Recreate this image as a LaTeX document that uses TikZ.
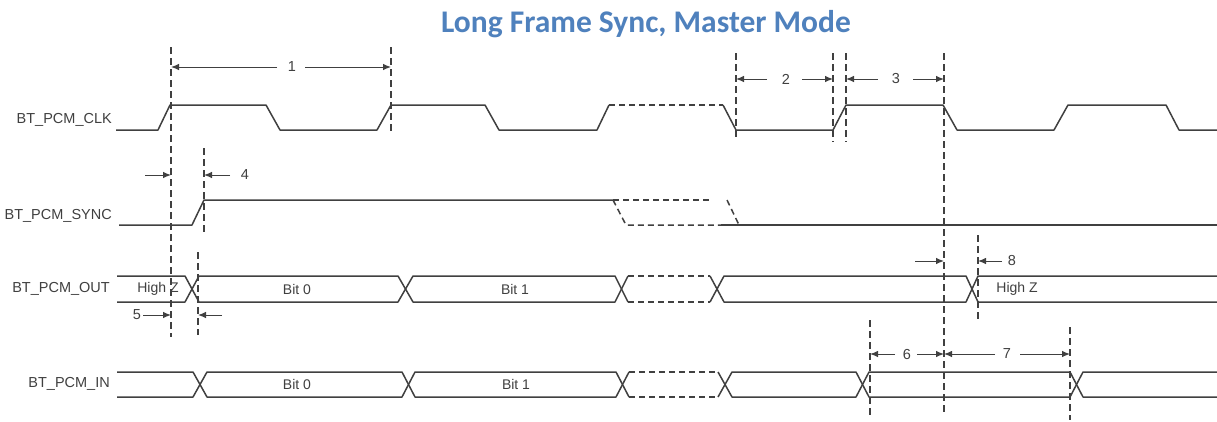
\documentclass[tikz,border=0pt]{standalone}
\usepackage{fontspec}
\setmainfont{Liberation Sans}
\newfontfamily\titlefont{Carlito}
\usetikzlibrary{arrows.meta}
\definecolor{sigc}{RGB}{64,64,64}
\definecolor{titc}{RGB}{79,129,189}
\tikzset{
  sig/.style={draw=sigc, line width=1.5pt, line join=round},
  dsig/.style={sig, dash pattern=on 6pt off 4pt},
  guide/.style={draw=sigc, line width=1.3pt, dash pattern=on 7pt off 4pt},
  dim/.style={draw=sigc, line width=1pt, -{Latex[length=8pt,width=6.5pt]}},
  lbl/.style={anchor=east, text=sigc, font=\fontsize{14.5}{16}\selectfont, inner sep=0pt},
  btxt/.style={text=sigc, font=\fontsize{14}{16}\selectfont, inner sep=0pt},
  num/.style={text=sigc, font=\fontsize{14.5}{16}\selectfont, inner sep=0pt}
}
\begin{document}
\begin{tikzpicture}[x=1pt,y=-1pt]
\useasboundingbox[fill=white] (0,0) rectangle (1217,421);
% title
\node[text=titc, font=\titlefont\bfseries\fontsize{31.5}{34}\selectfont, anchor=base] (title) at (646,32) {Long Frame Sync, Master Mode};
% signal names
\node[lbl] (lclk) at (112,120) {BT\_PCM\_CLK};
\node[lbl] (lsync) at (112,216) {BT\_PCM\_SYNC};
\node[lbl] (lout) at (110,289) {BT\_PCM\_OUT};
\node[lbl] (lin) at (110,384) {BT\_PCM\_IN};
% CLK
\draw[sig] (116,130)--(158,130)--(170,105)--(266,105)--(280,130)--(377,130)--(391,105)--(485,105)--(499,130)--(597,130)--(609,105);
\draw[dsig] (609,105)--(723,105);
\draw[sig] (723,105)--(736,130)--(833,130)--(846,105)--(943,105)--(957,130)--(1054,130)--(1068,105)--(1166,105)--(1179,130)--(1217,130);
% SYNC
\draw[sig] (119,225)--(192,225)--(204,200)--(613,200);
\draw[dsig] (613,200)--(712,200);
\draw[dsig] (613,200)--(626,225)--(721,225);
\draw[dsig] (727,200)--(739,225);
\draw[sig] (721,225)--(1217,225);
% OUT bus (top 276, bottom 302)
\draw[sig] (117,276)--(185,276)--(199,302)--(398,302)--(413,276)--(615,276)--(628,302);
\draw[sig] (117,302)--(185,302)--(199,276)--(398,276)--(413,302)--(615,302)--(628,276);
\draw[dsig] (628,276)--(710,276);
\draw[dsig] (628,302)--(710,302);
\draw[sig] (710,276)--(724,302)--(966,302)--(978,276)--(1217,276);
\draw[sig] (710,302)--(724,276)--(966,276)--(978,302)--(1217,302);
\node[btxt] (oz1) at (158,289) {High Z};
\node[btxt] (ob0) at (297,289) {Bit 0};
\node[btxt] (ob1) at (515,289) {Bit 1};
\node[btxt] (oz2) at (1017,289) {High Z};
% IN bus (top 372, bottom 397)
\draw[sig] (117,372)--(193,372)--(207,397)--(402,397)--(415,372)--(616,372)--(629,397);
\draw[sig] (117,397)--(193,397)--(207,372)--(402,372)--(415,397)--(616,397)--(629,372);
\draw[dsig] (629,372)--(718,372);
\draw[dsig] (629,397)--(718,397);
\draw[sig] (718,372)--(732,397)--(856,397)--(869,372)--(1070,372)--(1083,397)--(1217,397);
\draw[sig] (718,397)--(732,372)--(856,372)--(869,397)--(1070,397)--(1083,372)--(1217,372);
\node[btxt] (ib0) at (297,384) {Bit 0};
\node[btxt] (ib1) at (516,384) {Bit 1};
% guides
\coordinate (g1t) at (171,47);  \coordinate (g1b) at (171,337);
\coordinate (g2t) at (391,47);  \coordinate (g2b) at (391,132);
\coordinate (g3t) at (204,148); \coordinate (g3b) at (204,232);
\coordinate (g4t) at (736,53);  \coordinate (g4b) at (736,137);
\coordinate (g5t) at (833,53);  \coordinate (g5b) at (833,142);
\coordinate (g6t) at (846,53);  \coordinate (g6b) at (846,142);
\coordinate (g7t) at (944,53);  \coordinate (g7b) at (944,413);
\coordinate (g8t) at (198,252); \coordinate (g8b) at (198,335);
\coordinate (g9t) at (978,235); \coordinate (g9b) at (978,322);
\coordinate (g10t) at (870,320); \coordinate (g10b) at (870,417);
\coordinate (g11t) at (1070,327); \coordinate (g11b) at (1070,420);
\foreach \g in {1,...,11} { \draw[guide] (g\g t) -- (g\g b); }
% dimension labels and arrows
\node[num] (n1) at (292,67) {1};
\draw[dim] ([xshift=-15pt]n1.center) -- (g1t |- n1.center);
\draw[dim] ([xshift=13pt]n1.center) -- (g2t |- n1.center);
\node[num] (n2) at (786,79) {2};
\draw[dim] ([xshift=-19pt]n2.center) -- (g4t |- n2.center);
\draw[dim] ([xshift=16pt]n2.center) -- (g5t |- n2.center);
\node[num] (n3) at (896,79) {3};
\draw[dim] ([xshift=-18pt]n3.center) -- (g6t |- n3.center);
\draw[dim] ([xshift=17pt]n3.center) -- (g7t |- n3.center);
\node[num] (n4) at (245,175) {4};
\coordinate (a4) at (145,175);
\draw[dim] (a4) -- (g1t |- a4);
\draw[dim] ([xshift=-15pt]n4.center) -- (g3t |- n4.center);
\node[num] (n5) at (137,315) {5};
\coordinate (a5) at (222,315);
\draw[dim] ([xshift=6pt]n5.center) -- (g1t |- n5.center);
\draw[dim] (a5) -- (g8t |- a5);
\node[num] (n6) at (907,354) {6};
\draw[dim] ([xshift=-12pt]n6.center) -- (g10t |- n6.center);
\draw[dim] ([xshift=10pt]n6.center) -- (g7t |- n6.center);
\node[num] (n7) at (1007,354) {7};
\draw[dim] ([xshift=-12pt]n7.center) -- (g7t |- n7.center);
\draw[dim] ([xshift=13pt]n7.center) -- (g11t |- n7.center);
\node[num] (n8) at (1012,261) {8};
\coordinate (a8) at (915,261);
\draw[dim] (a8) -- (g7t |- a8);
\draw[dim] ([xshift=-10pt]n8.center) -- (g9t |- n8.center);
\end{tikzpicture}
\end{document}
